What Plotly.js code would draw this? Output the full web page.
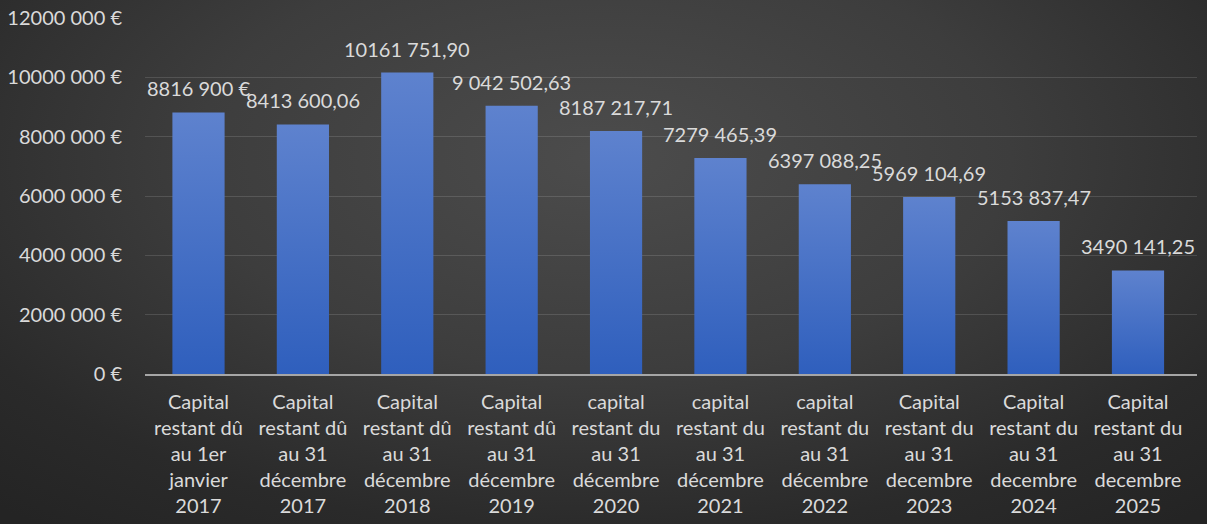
<!DOCTYPE html>
<html>
<head>
<meta charset="utf-8">
<script src="https://cdn.plot.ly/plotly-3.0.1.min.js"></script>
<style>
  html, body { margin: 0; padding: 0; width: 1207px; height: 524px; overflow: hidden;
    background: radial-gradient(ellipse 75% 90% at 50% 30%, #4c4c4c 0%, #3d3d3d 45%, #2a2a2a 80%, #242424 100%); }
  #chart { width: 1207px; height: 524px; }
</style>
</head>
<body>
<div id="chart"></div>
<script>
const categories = [
  "Capital<br>restant dû<br>au 1er<br>janvier<br>2017",
  "Capital<br>restant dû<br>au 31<br>décembre<br>2017",
  "Capital<br>restant dû<br>au 31<br>décembre<br>2018",
  "Capital<br>restant dû<br>au 31<br>décembre<br>2019",
  "capital<br>restant du<br>au 31<br>décembre<br>2020",
  "capital<br>restant du<br>au 31<br>décembre<br>2021",
  "capital<br>restant du<br>au 31<br>décembre<br>2022",
  "Capital<br>restant du<br>au 31<br>decembre<br>2023",
  "Capital<br>restant du<br>au 31<br>decembre<br>2024",
  "Capital<br>restant du<br>au 31<br>decembre<br>2025"
];
const values = [8816900, 8413600.06, 10161751.90, 9042502.63, 8187217.71, 7279465.39, 6397088.25, 5969104.69, 5153837.47, 3490141.25];
const valueLabels = ["8816 900 €", "8413 600,06", "10161 751,90", "9 042 502,63", "8187 217,71", "7279 465,39", "6397 088,25", "5969 104,69", "5153 837,47", "3490 141,25"];
const tickValues = [0, 2000000, 4000000, 6000000, 8000000, 10000000, 12000000];
const tickLabels = ["0 €", "2000 000 €", "4000 000 €", "6000 000 €", "8000 000 €", "10000 000 €", "12000 000 €"];

const FONT = "Lato, 'Open Sans', sans-serif";
const TXT = "#dadada";

const trace = {
  type: "bar",
  x: categories,
  y: values,
  marker: { color: "#4472c4", line: { width: 0 } },
  hoverinfo: "skip"
};

const annotations = categories.map((c, i) => ({
  x: c, y: values[i], xref: "x", yref: "y",
  text: valueLabels[i], showarrow: false,
  yanchor: "bottom", xanchor: "center", yshift: 10,
  font: { family: FONT, size: 20, color: TXT }
}));

const layout = {
  width: 1207, height: 524,
  margin: { l: 145, r: 10, t: 18, b: 150, pad: 0 },
  paper_bgcolor: "rgba(0,0,0,0)",
  plot_bgcolor: "rgba(0,0,0,0)",
  showlegend: false,
  bargap: 0.5,
  font: { family: FONT, size: 20, color: TXT },
  xaxis: {
    type: "category",
    showgrid: false,
    showline: true, linecolor: "#a6a6a6", linewidth: 2,
    ticks: "outside", ticklen: 9, tickcolor: "rgba(0,0,0,0)",
    tickfont: { family: FONT, size: 20, color: TXT },
    tickangle: 0,
    fixedrange: true
  },
  yaxis: {
    range: [0, 12000000],
    tickvals: tickValues, ticktext: tickLabels,
    showgrid: true, gridcolor: "rgba(255,255,255,0.13)", gridwidth: 1,
    zeroline: false, showline: false,
    ticks: "outside", ticklen: 18, tickcolor: "rgba(0,0,0,0)",
    tickfont: { family: FONT, size: 20, color: TXT },
    fixedrange: true
  },
  annotations: annotations
};

Plotly.newPlot("chart", [trace], layout, { displayModeBar: false, staticPlot: true }).then(function (gd) {
  // vertical gradient on the bars, like the original office chart
  const svg = gd.querySelector("svg.main-svg");
  const ns = "http://www.w3.org/2000/svg";
  let defs = svg.querySelector("defs");
  if (!defs) { defs = document.createElementNS(ns, "defs"); svg.insertBefore(defs, svg.firstChild); }
  const lg = document.createElementNS(ns, "linearGradient");
  lg.setAttribute("id", "barGrad");
  lg.setAttribute("x1", "0"); lg.setAttribute("y1", "0");
  lg.setAttribute("x2", "0"); lg.setAttribute("y2", "1");
  [["0", "#5e82ce"], ["1", "#2f5fbd"]].forEach(function (s) {
    const st = document.createElementNS(ns, "stop");
    st.setAttribute("offset", s[0]); st.setAttribute("stop-color", s[1]);
    lg.appendChild(st);
  });
  defs.appendChild(lg);
  gd.querySelectorAll(".bars .point path").forEach(function (p) {
    p.style.fill = "url(#barGrad)";
  });
});
</script>
</body>
</html>
